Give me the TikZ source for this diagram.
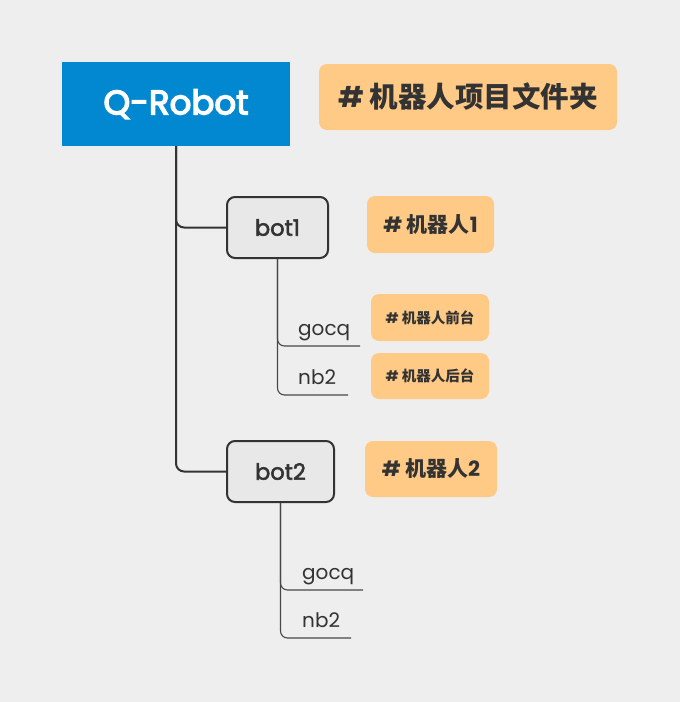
\documentclass[tikz,border=0pt]{standalone}
\usepackage{fontspec}
\setmainfont{Poppins}
\newfontfamily\popmed[FakeBold=2.5]{Poppins}
\newfontfamily\popsemi[FakeBold=4]{Poppins}
\newfontfamily\cjk{Noto Sans CJK SC}
\usetikzlibrary{positioning}

\definecolor{bgcol}{HTML}{EEEEEE}
\definecolor{rootcol}{HTML}{0288D1}
\definecolor{notecol}{HTML}{FFCA86}
\definecolor{botcol}{HTML}{E8E8E8}
\definecolor{inkcol}{HTML}{333333}

\tikzset{
  rootbox/.style={fill=rootcol,text=white,font=\fontsize{34}{38}\popsemi,minimum width=228pt,minimum height=84pt,inner sep=0pt},
  botbox/.style={draw=inkcol,line width=2pt,fill=botcol,rounded corners=8pt,text=inkcol,font=\fontsize{22.5}{26}\popmed,minimum height=61pt,inner sep=0pt},
  notebox/.style={fill=notecol,rounded corners=8pt,text=inkcol,inner sep=0pt},
  leaf/.style={text=inkcol,font=\fontsize{20}{24}\selectfont,inner sep=0pt,anchor=base west},
  trunk/.style={draw=inkcol,line width=2pt,rounded corners=8pt},
  twig/.style={draw=inkcol!90,line width=1.1pt,rounded corners=7pt}
}

\begin{document}
\begin{tikzpicture}[x=1pt,y=-1pt]
            \fill[bgcol] (0,0) rectangle (680,702);
            \useasboundingbox (0,0) rectangle (680,702);

            % main nodes
            \node[rootbox] (root) at (176,104) {Q-Robot};
            \node[botbox,minimum width=101pt] (bot1) at (277.5,227.5) {bot1};
            \node[botbox,minimum width=107pt] (bot2) at (280.5,471.5) {bot2};

            % notes
            \node[notebox,minimum width=298pt,minimum height=66pt,font=\fontsize{28.5}{31}\selectfont\bfseries] (n0) at (468,97) {\# {\cjk\bfseries 机器人项目文件夹}};
            \node[notebox,minimum width=127pt,minimum height=57pt,font=\fontsize{21}{25}\selectfont\bfseries] (n1) at (430.5,224.5) {\# {\cjk\bfseries 机器人}1};
            \node[notebox,minimum width=132pt,minimum height=56pt,font=\fontsize{21}{25}\selectfont\bfseries] (n2) at (431,469) {\# {\cjk\bfseries 机器人}2};
            \node[notebox,minimum width=118pt,minimum height=47pt,font=\fontsize{14.5}{17}\selectfont\bfseries] (n11) at (430,317.5) {\# {\cjk\bfseries 机器人前台}};
            \node[notebox,minimum width=118pt,minimum height=46pt,font=\fontsize{14.5}{17}\selectfont\bfseries] (n12) at (430,376) {\# {\cjk\bfseries 机器人后台}};

            % leaves
            \node[leaf] (g1) at (298,335) {gocq};
            \node[leaf] (b1) at (298,384) {nb2};
            \node[leaf] (g2) at (302,579) {gocq};
            \node[leaf] (b2) at (302,627) {nb2};
            \coordinate (g1e) at (360,346);
            \coordinate (b1e) at (348,395);
            \coordinate (g2e) at (363,590);
            \coordinate (b2e) at (351,638);

            \path [trunk] (root.south) |- (bot1.west);
            \path [trunk] (root.south) |- (bot2.west);
            \path [twig] (bot1.south) |- (g1e);
            \path [twig] (bot1.south) |- (b1e);
            \path [twig] (bot2.south) |- (g2e);
            \path [twig] (bot2.south) |- (b2e);
        \end{tikzpicture}
\end{document}
